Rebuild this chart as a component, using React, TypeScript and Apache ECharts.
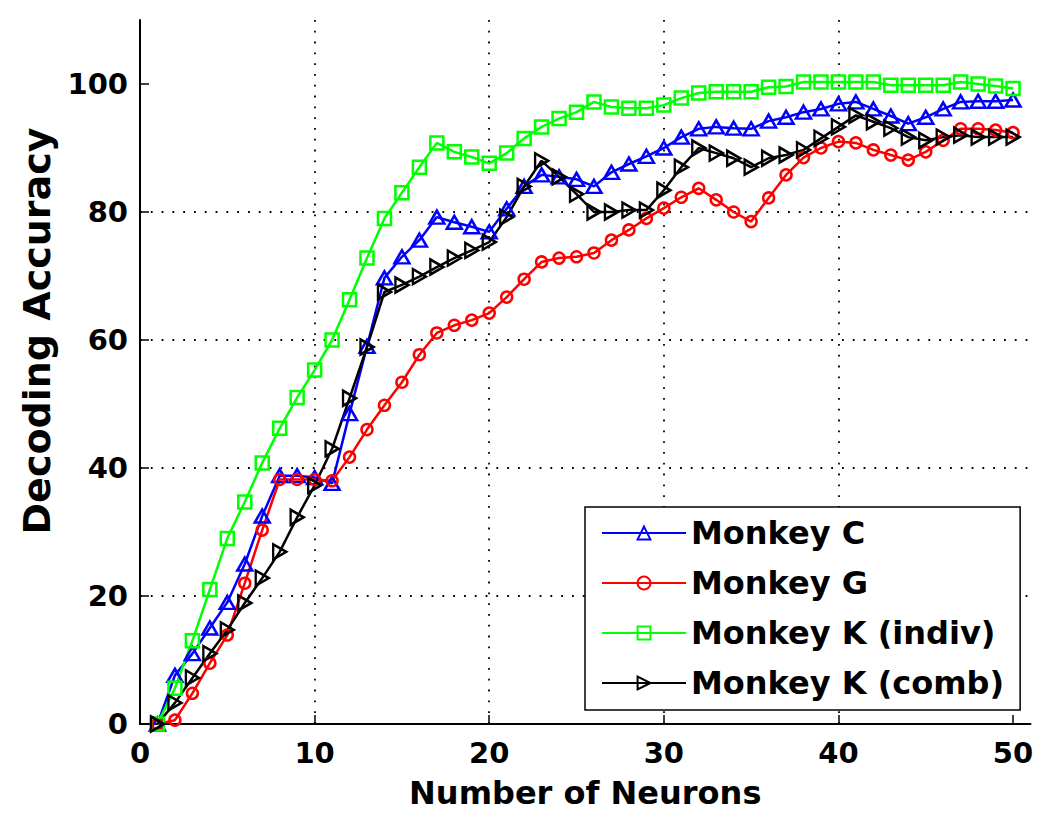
import { useEffect, useRef } from "react";
import * as echarts from "echarts";

const neurons = [
  1, 2, 3, 4, 5, 6, 7, 8, 9, 10, 11, 12, 13, 14, 15, 16, 17, 18, 19, 20, 21, 22, 23, 24, 25,
  26, 27, 28, 29, 30, 31, 32, 33, 34, 35, 36, 37, 38, 39, 40, 41, 42, 43, 44, 45, 46, 47, 48, 49, 50,
];

const monkeyC = [
  0, 7.6, 11, 15, 19, 25, 32.5, 38.8, 38.8, 38.5, 37.6, 48.5, 59, 69.7, 73, 75.6, 79.2, 78.4, 77.7, 76.9,
  80.5, 84, 85.8, 85.5, 85.1, 84, 86.2, 87.5, 88.7, 90, 91.7, 93, 93.3, 93.1, 93, 94.2, 94.8, 95.6, 96.1, 96.9,
  97.2, 96.1, 95, 93.8, 94.8, 96.1, 97.2, 97.3, 97.3, 97.5,
];

const monkeyG = [
  0, 0.6, 4.8, 9.5, 13.9, 22, 30.3, 38.2, 38.2, 38.2, 38, 41.7, 46, 49.8, 53.4, 57.7, 61.1, 62.3, 63.1, 64.2,
  66.7, 69.5, 72.2, 72.8, 73, 73.6, 75.6, 77.2, 79, 80.6, 82.3, 83.7, 81.9, 80, 78.5, 82.2, 85.8, 88.5, 90, 91,
  90.8, 89.7, 88.9, 88.1, 89.4, 91.2, 93, 93, 92.8, 92.4,
];

const monkeyKIndiv = [
  0, 5.6, 13, 21, 29, 34.7, 40.8, 46.2, 51, 55.3, 60, 66.3, 72.8, 79, 83, 87, 90.8, 89.4, 88.6, 87.6,
  89.2, 91.5, 93.3, 94.6, 95.6, 97.2, 96.4, 96.2, 96.2, 96.7, 97.8, 98.6, 98.8, 98.8, 98.8, 99.5, 99.6, 100.3, 100.3, 100.3,
  100.3, 100.3, 99.8, 99.8, 99.8, 99.8, 100.3, 100, 99.7, 99.3,
];

const monkeyKComb = [
  0, 3.3, 7.2, 11, 14.7, 18.9, 22.8, 26.9, 32.3, 37.3, 43, 50.9, 58.9, 67.5, 68.6, 69.9, 71.4, 72.8, 74, 75.3,
  79.2, 84, 88, 85.5, 82.8, 80, 80, 80.3, 80.3, 83.4, 87, 90, 89.2, 88.4, 87, 88.4, 88.9, 89.7, 91.5, 93.3,
  95.1, 94.1, 93.1, 91.7, 91.2, 91.7, 92, 91.7, 91.7, 91.7,
];

const seriesNames = ["Monkey C", "Monkey G", "Monkey K (indiv)", "Monkey K (comb)"];
const xTicks = [0, 10, 20, 30, 40, 50];
const yTicks = [0, 20, 40, 60, 80, 100];
const xTitle = "Number of Neurons";
const yTitle = "Decoding Accuracy";

export default function App() {
  const ref = useRef<HTMLDivElement>(null);

  useEffect(() => {
    const chart = echarts.init(ref.current!, null, { renderer: "svg" });
    const font = "DejaVu Sans";
    const mk = (
      name: string,
      data: number[],
      color: string,
      symbol: string,
      size: number | number[],
      rotate = 0
    ) => ({
      name,
      type: "line",
      data: neurons.map((x, i) => [x, data[i]]),
      symbol,
      symbolSize: size,
      symbolRotate: rotate,
      color,
      lineStyle: { color, width: 2.5 },
      itemStyle: { color: "rgba(255,255,255,0)", borderColor: color, borderWidth: 2.5 },
      emphasis: { disabled: true },
      z: 3,
    });

    const axisCommon = {
      type: "value",
      min: 0,
      axisLine: { show: true, lineStyle: { color: "#000", width: 2 } },
      splitLine: {
        show: true,
        showMinLine: false,
        showMaxLine: false,
        lineStyle: { color: "#000", width: 1.8, type: [1.8, 9] },
      },
      nameTextStyle: { fontFamily: font, fontWeight: "bold", fontSize: 32, color: "#000" },
    };

    chart.setOption({
      animation: false,
      backgroundColor: "#fff",
      grid: { left: 140, top: 20, right: 19.5, bottom: 96 },
      xAxis: {
        ...axisCommon,
        max: 51,
        interval: 10,
        axisTick: { show: true, inside: true, length: 9, customValues: xTicks, lineStyle: { color: "#000", width: 1.5 } },
        axisLabel: {
          customValues: xTicks,
          fontFamily: font,
          fontWeight: "bold",
          fontSize: 29,
          color: "#000",
          margin: 14,
        },
        name: xTitle,
        nameLocation: "middle",
        nameGap: 53,
      },
      yAxis: {
        ...axisCommon,
        max: 110,
        interval: 20,
        axisTick: { show: true, inside: true, length: 9, customValues: yTicks, lineStyle: { color: "#000", width: 1.5 } },
        axisLabel: {
          customValues: yTicks,
          fontFamily: font,
          fontWeight: "bold",
          fontSize: 29,
          color: "#000",
          margin: 12,
        },
      },
      graphic: [
        {
          type: "text",
          x: 37,
          y: 331,
          rotation: Math.PI / 2,
          style: {
            text: yTitle,
            fontFamily: font,
            fontWeight: "bold",
            fontSize: 38,
            fill: "#000",
            align: "center",
            verticalAlign: "middle",
          },
        },
      ],
      legend: {
        data: seriesNames,
        orient: "vertical",
        left: 585,
        top: 507,
        itemWidth: 84,
        itemHeight: 16,
        itemGap: 18,
        padding: [10, 16, 11, 16],
        borderColor: "#000",
        borderWidth: 1.5,
        backgroundColor: "#fff",
        textStyle: { fontFamily: font, fontWeight: "bold", fontSize: 32, color: "#000" },
        selectedMode: false,
      },
      series: [
        mk(seriesNames[0], monkeyC, "#0000ff", "triangle", [15, 13]),
        mk(seriesNames[1], monkeyG, "#ff0000", "circle", 11),
        mk(seriesNames[2], monkeyKIndiv, "#00ff00", "rect", 13),
        mk(seriesNames[3], monkeyKComb, "#000000", "triangle", [15, 13], -90),
      ],
    });
    return () => chart.dispose();
  }, []);

  return (
    <div
      ref={ref}
      style={{ position: "fixed", left: 0, top: 0, width: 1050, height: 820, background: "#fff" }}
    />
  );
}
